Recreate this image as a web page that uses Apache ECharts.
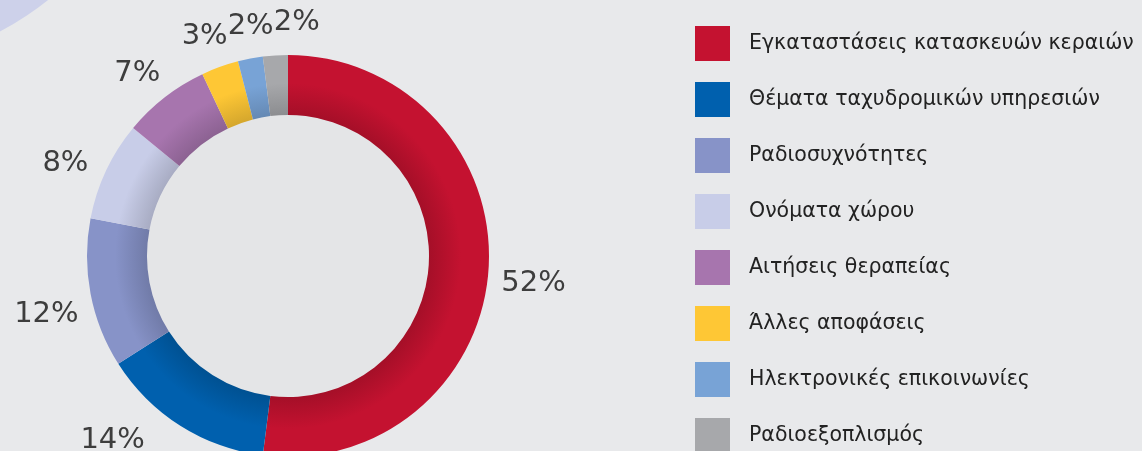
<!DOCTYPE html>
<html>
<head>
<meta charset="utf-8">
<style>
    html, body { margin: 0; padding: 0; background: #e8e9eb; }
    #chart { width: 1142px; height: 451px; }
</style>
<script src="https://cdn.jsdelivr.net/npm/echarts@6/dist/echarts.min.js"></script>
</head>
<body>
<div id="chart"></div>
<script>
var categories = [
    'Εγκαταστάσεις κατασκευών κεραιών',
    'Θέματα ταχυδρομικών υπηρεσιών',
    'Ραδιοσυχνότητες',
    'Ονόματα χώρου',
    'Αιτήσεις θεραπείας',
    'Άλλες αποφάσεις',
    'Ηλεκτρονικές επικοινωνίες',
    'Ραδιοεξοπλισμός'
];
var shares = [52, 14, 12, 8, 7, 3, 2, 2];
var colors = ['#c41230', '#0060ae', '#8793c8', '#c8cde8', '#a775ae', '#fec735', '#78a3d6', '#a7a8ab'];

var cx = 288, cy = 256, rIn = 141, rOut = 201;
// percentage labels sit on a slightly lower, wider circle
var labelCy = cy + 12, labelR = 246, chartH = 451;

function darken(hex, k) {
    var c = echarts.color.parse(hex);
    return 'rgb(' + Math.round(c[0] * k) + ',' + Math.round(c[1] * k) + ',' + Math.round(c[2] * k) + ')';
}

// darker shade near the inner edge of the ring
function shade(hex) {
    var c = darken(hex, 0.84);
    return {
        type: 'radial', x: cx, y: cy, r: rOut, global: true,
        colorStops: [
            {offset: 0, color: c},
            {offset: rIn / rOut, color: c},
            {offset: 0.86, color: hex},
            {offset: 1, color: hex}
        ]
    };
}

var ringData = categories.map(function (name, i) {
    return {name: name, value: shares[i], itemStyle: {color: shade(colors[i])}};
});
var labelData = categories.map(function (name, i) {
    return {name: name, value: shares[i]};
});

var myChart = echarts.init(document.getElementById('chart')),
    option = {
        backgroundColor: '#e8e9eb',
        animation: false,
        graphic: [
            {type: 'circle', shape: {cx: -150, cy: -250, r: 319}, style: {fill: '#cdd1ea'}, silent: true, z: -10},
            {type: 'circle', shape: {cx: cx, cy: cy, r: rIn}, style: {fill: '#e4e5e7'}, silent: true, z: -5}
        ],
        legend: {
            orient: 'vertical',
            left: 695,
            top: 26,
            height: 520,
            padding: 0,
            icon: 'rect',
            itemWidth: 35,
            itemHeight: 35,
            itemGap: 21,
            selectedMode: false,
            textStyle: {
                fontFamily: 'DejaVu Sans',
                fontSize: 20.5,
                color: '#222222',
                padding: [0, 0, 0, 14]
            },
            data: categories.map(function (name, i) {
                return {name: name, itemStyle: {color: colors[i]}};
            })
        },
        series: [
            {
                type: 'pie',
                center: [cx, cy],
                radius: [rIn, rOut],
                startAngle: 90,
                clockwise: true,
                label: {show: false},
                labelLine: {show: false},
                emphasis: {disabled: true},
                data: ringData
            },
            {
                // invisible ring that only carries the percentage labels
                type: 'pie',
                center: [cx, labelCy],
                radius: [labelR - 19, labelR + 13],
                startAngle: 90,
                clockwise: true,
                silent: true,
                avoidLabelOverlap: false,
                itemStyle: {color: 'rgba(0,0,0,0)'},
                emphasis: {disabled: true},
                label: {
                    show: true,
                    position: 'inside',
                    formatter: '{c}%',
                    fontFamily: 'DejaVu Sans',
                    fontSize: 29,
                    color: '#3d3d3d'
                },
                labelLine: {show: false},
                labelLayout: function (p) {
                    var r = p.labelRect;
                    var midY = r.y + r.height / 2;
                    var midX = r.x + r.width / 2;
                    // labels over the ring top: spread sideways
                    if (midY < cy - rOut) {
                        return {moveOverlap: 'shiftX'};
                    }
                    // keep bottom labels on their circle but inside the canvas
                    if (r.y + r.height > chartH + 4) {
                        var y = chartH + 4 - r.height / 2;
                        var dx = Math.sqrt(Math.max(0, labelR * labelR - (y - labelCy) * (y - labelCy)));
                        return {x: midX < cx ? cx - dx : cx + dx, y: y};
                    }
                },
                data: labelData
            }
        ]
    };

myChart.setOption(option);
</script>
</body>
</html>
